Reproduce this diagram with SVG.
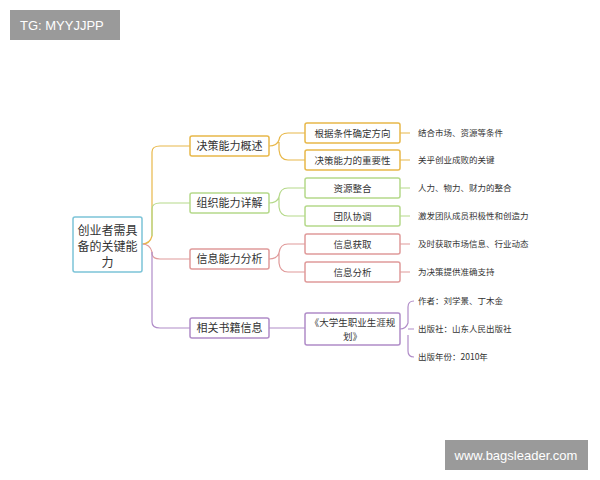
<svg xmlns="http://www.w3.org/2000/svg" width="600" height="480" viewBox="0 0 600 480">
<style>
.t{font-family:"Noto Sans CJK SC",sans-serif;fill:#333}
.b{fill:#fff;stroke-width:1.5}
.c{fill:none;stroke-width:1.2}
.y{stroke:#e8b84a}.g{stroke:#b5d98a}.r{stroke:#e09a9a}.p{stroke:#b08cc8}
</style>
<rect width="600" height="480" fill="#fff"/>
<g id="wm1"><rect x="10" y="10" width="110" height="30" fill="#9a9a9a"/><text x="20" y="30" font-family="Liberation Sans,sans-serif" font-size="13" fill="#fff">TG: MYYJJPP</text></g>
<g id="wm2"><rect x="445" y="440" width="143" height="30" fill="#9a9a9a"/><text x="516" y="460" text-anchor="middle" font-family="Liberation Sans,sans-serif" font-size="13" fill="#fff">www.bagsleader.com</text></g>
<g id="connectors">
<path class="c y" d="M142 244 Q150 244 152 236 L152 152 Q152 146 160 146 L190 146"/>
<path class="c g" d="M152 236 L152 209 Q152 203 160 203 L190 203"/>
<path class="c r" d="M142 244 Q150 244 152 252 L152 253 Q152 259 160 259 L190 259"/>
<path class="c p" d="M152 252 L152 322 Q152 328 160 328 L190 328"/>
<path class="c y" d="M269 146 Q277 146 279 140 Q280 133 288 133 L305 133 M279 150 Q280 160 288 160 L305 160 M279 142 L279 150"/>
<path class="c g" d="M269 203 Q277 203 279 197 Q280 188 288 188 L305 188 M279 207 Q280 216 288 216 L305 216 M279 197 L279 207"/>
<path class="c r" d="M269 259 Q277 259 279 253 Q280 244 288 244 L305 244 M279 263 Q280 272 288 272 L305 272 M279 253 L279 263"/>
<path class="c p" d="M269 328 L305 328"/>
<path class="c y" d="M400 133 L410 133 M400 160 L410 160"/>
<path class="c g" d="M400 188 L410 188 M400 216 L410 216"/>
<path class="c r" d="M400 244 L410 244 M400 272 L410 272"/>
<path class="c p" d="M400 329 Q406 329 408 323 L408 307 Q408 301 414 301 M408 329 L414 329 M408 335 L408 351 Q408 357 414 357"/>
</g>
<g id="root"><rect class="b" x="73" y="217" width="69" height="55" rx="2" stroke="#7cc4d8"/><text class="t" font-size="12" text-anchor="middle"><tspan x="107.5" y="235">创业者需具</tspan><tspan x="107.5" y="251">备的关键能</tspan><tspan x="107.5" y="267">力</tspan></text></g>
<g id="n1"><rect class="b y" x="190" y="136" width="79" height="20" rx="2"/><text class="t" x="229.5" y="150" font-size="11" text-anchor="middle">决策能力概述</text></g>
<g id="n2"><rect class="b g" x="190" y="193" width="79" height="20" rx="2"/><text class="t" x="229.5" y="207" font-size="11" text-anchor="middle">组织能力详解</text></g>
<g id="n3"><rect class="b r" x="190" y="249" width="79" height="20" rx="2"/><text class="t" x="229.5" y="263" font-size="11" text-anchor="middle">信息能力分析</text></g>
<g id="n4"><rect class="b p" x="190" y="318" width="79" height="20" rx="2"/><text class="t" x="229.5" y="332" font-size="11" text-anchor="middle">相关书籍信息</text></g>
<g id="n11"><rect class="b y" x="305" y="123" width="95" height="20" rx="2"/><text class="t" x="352.5" y="137" font-size="9.5" text-anchor="middle">根据条件确定方向</text></g>
<g id="n12"><rect class="b y" x="305" y="150" width="95" height="20" rx="2"/><text class="t" x="352.5" y="164" font-size="9.5" text-anchor="middle">决策能力的重要性</text></g>
<g id="n21"><rect class="b g" x="305" y="178" width="95" height="20" rx="2"/><text class="t" x="352.5" y="192" font-size="9.5" text-anchor="middle">资源整合</text></g>
<g id="n22"><rect class="b g" x="305" y="206" width="95" height="20" rx="2"/><text class="t" x="352.5" y="220" font-size="9.5" text-anchor="middle">团队协调</text></g>
<g id="n31"><rect class="b r" x="305" y="234" width="95" height="20" rx="2"/><text class="t" x="352.5" y="248" font-size="9.5" text-anchor="middle">信息获取</text></g>
<g id="n32"><rect class="b r" x="305" y="262" width="95" height="20" rx="2"/><text class="t" x="352.5" y="276" font-size="9.5" text-anchor="middle">信息分析</text></g>
<g id="n41"><rect class="b p" x="305" y="313" width="95" height="32" rx="2"/><text class="t" font-size="9.5" text-anchor="middle"><tspan x="352.5" y="326">《大学生职业生涯规</tspan><tspan x="352.5" y="340">划》</tspan></text></g>
<g id="leaves" class="t" font-size="8.5">
<text x="418" y="136">结合市场、资源等条件</text>
<text x="418" y="163">关乎创业成败的关键</text>
<text x="418" y="191">人力、物力、财力的整合</text>
<text x="418" y="219">激发团队成员积极性和创造力</text>
<text x="418" y="247">及时获取市场信息、行业动态</text>
<text x="418" y="275">为决策提供准确支持</text>
<text x="418" y="304">作者：刘学景、丁木金</text>
<text x="418" y="332">出版社：山东人民出版社</text>
<text x="418" y="360">出版年份：2010年</text>
</g>
</svg>
